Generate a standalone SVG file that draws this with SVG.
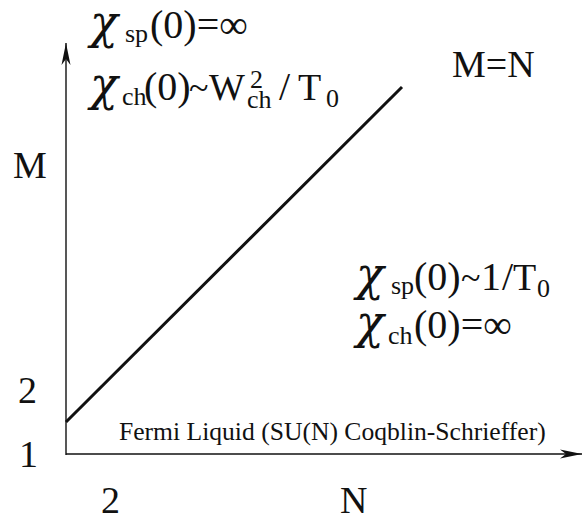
<svg xmlns="http://www.w3.org/2000/svg" width="583" height="521" viewBox="0 0 583 521" font-family="'Liberation Serif', 'Times New Roman', serif">
<defs>
<style>
text{fill:#111}
.chi{font-family:'DejaVu Serif',serif;font-style:italic;font-size:46px}
.sub{font-size:26px}
.m{font-size:40px}
.t{font-size:36px}
.lbl{font-size:38px}
.note{font-size:25.6px}
.axis{stroke:#111;stroke-width:1.4;fill:none}
.diag{stroke:#111;stroke-width:3;fill:none}
</style>
<marker id="ah" markerUnits="userSpaceOnUse" markerWidth="30" markerHeight="14" viewBox="-24 -7 26 14" refX="0" refY="0" orient="auto">
<path d="M0,0 L-22,-4.5 L-16,0 L-22,4.5 Z" fill="#111"/>
</marker>
</defs>
<g id="connectors">
<line class="axis" x1="66" y1="455" x2="66" y2="43" marker-end="url(#ah)"/>
<line class="axis" x1="66" y1="454" x2="582" y2="454" marker-end="url(#ah)"/>
<line class="diag" x1="66" y1="422" x2="402" y2="87"/>
</g>
<g id="axis-labels">
<text class="lbl" x="13" y="178">M</text>
<text class="lbl" x="18" y="403">2</text>
<text class="lbl" x="19" y="467">1</text>
<text class="lbl" x="101" y="513">2</text>
<text class="lbl" x="340" y="513">N</text>
<text class="lbl" font-size="36" x="452" y="77">M=N</text>
</g>
<g id="top-left">
<text class="chi" x="90" y="38">χ</text>
<text class="sub" x="125" y="42">sp</text>
<text class="m" x="150" y="38">(0)=∞</text>
<text class="chi" x="90" y="100">χ</text>
<text class="sub" x="122" y="105">ch</text>
<text class="m" x="144" y="100">(0)</text>
<text class="t" x="189" y="100">~</text>
<text class="lbl" x="209" y="100">W</text>
<text class="sub" x="250" y="88">2</text>
<text class="sub" x="247" y="108">ch</text>
<text class="m" x="279" y="100">/</text>
<text class="lbl" x="298" y="100">T</text>
<text class="sub" x="326" y="107">0</text>
</g>
<g id="bottom-right">
<text class="chi" x="356" y="290">χ</text>
<text class="sub" x="391" y="294">sp</text>
<text class="m" x="414" y="290">(0)</text>
<text class="t" x="461" y="290">~</text>
<text class="m" x="481" y="290">1</text>
<text class="m" x="502" y="290">/</text>
<text class="lbl" x="513" y="290">T</text>
<text class="sub" x="537" y="297">0</text>
<text class="chi" x="356" y="338">χ</text>
<text class="sub" x="388" y="344">ch</text>
<text class="m" x="414" y="338">(0)=∞</text>
</g>
<g id="fermi-label">
<text class="note" x="119" y="440">Fermi Liquid (SU(N) Coqblin-Schrieffer)</text>
</g>
</svg>
